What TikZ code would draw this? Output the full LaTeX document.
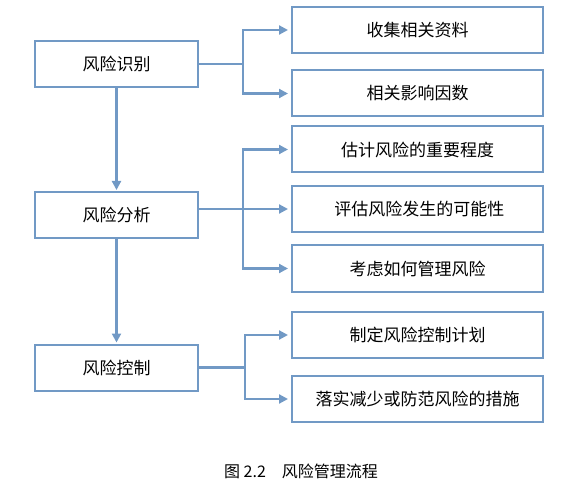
\documentclass[tikz,border=0pt]{standalone}
\usepackage{fontspec}
\setmainfont{Noto Sans CJK SC}
\usetikzlibrary{arrows.meta}
\definecolor{riskblue}{HTML}{7199C5}
\tikzset{
  stagebox/.style={draw=riskblue, line width=2pt, minimum width=163pt, minimum height=46pt, inner sep=0pt},
  taskbox/.style={draw=riskblue, line width=2pt, minimum width=251pt, minimum height=46pt, inner sep=0pt},
  link/.style={draw=riskblue, line width=2.2pt},
  arrowlink/.style={link, -{Triangle[length=9pt,width=9pt]}, shorten >=3pt}
}
\begin{document}
\begin{tikzpicture}[x=1pt, y=-1pt, font=\fontsize{17}{20}\selectfont]
    \useasboundingbox (0,0) rectangle (579,492);

    % Stages on the left
    \node[stagebox] (ident) at (116.5,64) {风险识别};
    \node[stagebox] (anal)  at (116.5,215) {风险分析};
    \node[stagebox] (ctrl)  at (116.5,367.5) {风险控制};

    % Tasks on the right
    \node[taskbox] (collect)  at (417.5,30)    {收集相关资料};
    \node[taskbox] (factor)   at (417.5,93.5)  {相关影响因数};
    \node[taskbox] (weight)   at (417.5,149.5) {估计风险的重要程度};
    \node[taskbox] (chance)   at (417.5,209)   {\ 评估风险发生的可能性};
    \node[taskbox] (manage)   at (417.5,268.5) {考虑如何管理风险};
    \node[taskbox] (plan)     at (417.5,335)   {制定风险控制计划};
    \node[taskbox] (measure)  at (417.5,399)   {落实减少或防范风险的措施};

    % Junctions
    \coordinate (jident) at (243,64);
    \coordinate (janal)  at (243,209);
    \coordinate (jctrl)  at (245,367.5);

    % Stage to stage
    \draw[arrowlink, shorten >=1pt] (ident) -- (anal);
    \draw[arrowlink, shorten >=1pt] (anal) -- (ctrl);

    % Identification
    \draw[link] (ident.east) -- (jident);
    \draw[arrowlink] (jident) |- (collect.west);
    \draw[arrowlink] (jident) |- (factor.west);

    % Analysis
    \draw[arrowlink] (anal.east |- chance.west) -- (chance.west);
    \draw[arrowlink] (janal) |- (weight.west);
    \draw[arrowlink] (janal) |- (manage.west);

    % Control
    \draw[link] (ctrl.east) -- (jctrl);
    \draw[arrowlink] (jctrl) |- (plan.west);
    \draw[arrowlink] (jctrl) |- (measure.west);

    % Caption
    \node[font=\fontsize{16}{19}\selectfont] (caption) at (301,471) {图 2.2\quad 风险管理流程};
\end{tikzpicture}
\end{document}
